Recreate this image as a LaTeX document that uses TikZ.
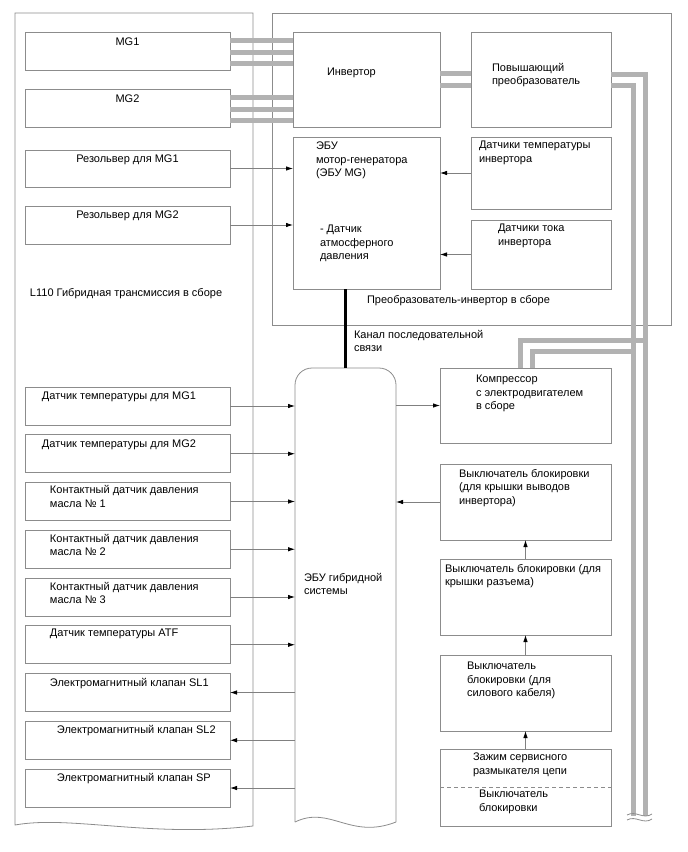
\documentclass[tikz,border=0pt]{standalone}
\usepackage{fontspec}
\setmainfont{Liberation Sans}
\usetikzlibrary{
  calc,
  positioning,
  arrows.meta
}

\begin{document}
\begin{tikzpicture}[x=1bp, y=-1bp,
    box/.style = {rectangle, draw=black!45, line width=.8bp, inner sep=0, outer sep=0},
    lbox/.style = {box, minimum width=205bp, minimum height=38bp},
    rbox/.style = {box, minimum width=171bp, minimum height=76bp},
    txt/.style = {inner sep=0, outer sep=0, align=left, anchor=north west},
    frame/.style = {draw=black!45, line width=.8bp},
    cable/.style = {draw=black!30, line width=5bp},
    sig/.style = {draw=black!50, line width=.8bp, -{Latex[black, length=7bp, width=4.5bp]}},
    serial/.style = {draw=black, line width=2.2bp},
    font=\fontsize{11bp}{13.5bp}\selectfont]
        \useasboundingbox (0,0) rectangle (688,852);

        % frames
        \draw[frame] (15,825) -- (15,13) -- (253,13) -- (253,826) .. controls (150,838) and (70,815) .. cycle;
        \node[box, minimum width=399bp, minimum height=312bp, anchor=north west] (inv_asm) at (272,13) {};

        % nodes, transmission side
        \node[lbox] (mg1) at (127.5,51) {};
        \node[lbox, below=19bp of mg1] (mg2) {};
        \node[lbox, minimum height=37bp] (res_mg1) at (127.5,168.5) {};
        \node[lbox, below=19bp of res_mg1] (res_mg2) {};
        \node[lbox] (temp_mg1) at (127.5,406) {};
        \node[lbox, below=9.75bp of temp_mg1] (temp_mg2) {};
        \node[lbox, below=9.75bp of temp_mg2] (oil_p1) {};
        \node[lbox, below=9.75bp of oil_p1] (oil_p2) {};
        \node[lbox, below=9.75bp of oil_p2] (oil_p3) {};
        \node[lbox, below=9.75bp of oil_p3] (temp_atf) {};
        \node[lbox, below=9.75bp of temp_atf] (sol_sl1) {};
        \node[lbox, below=9.75bp of sol_sl1] (sol_sl2) {};
        \node[lbox, below=9.75bp of sol_sl2] (sol_sp) {};

        % nodes, inverter side
        \node[box, minimum width=147bp, minimum height=95bp] (inverter) at (366.5,79.5) {};
        \node[box, minimum width=140bp, minimum height=95bp, right=31bp of inverter] (boost) {};
        \node[box, minimum width=147bp, minimum height=152bp, below=10bp of inverter] (mg_ecu) {};
        \node[box, minimum width=140bp, minimum height=72bp] (inv_temp) at (541,173) {};
        \node[box, minimum width=140bp, minimum height=69bp] (inv_cur) at (541,254.5) {};

        % hybrid ecu and right column
        \node[inner sep=0, outer sep=0, minimum width=101bp, minimum height=454bp] (hv_ecu) at (345.5,595) {};
        \draw[frame, rounded corners=17bp] (hv_ecu.south west) -- (hv_ecu.north west) -- (hv_ecu.north east) -- (hv_ecu.south east);
        \draw[frame] (hv_ecu.south west) .. controls (330,805) and (350,840) .. (hv_ecu.south east);
        \node[rbox, minimum height=75bp] (compressor) at (525.5,405.5) {};
        \node[rbox] (lock_cover) at (525.5,502) {};
        \node[rbox, below=19bp of lock_cover] (lock_conn) {};
        \node[rbox, below=20bp of lock_conn] (lock_cable) {};
        \node[rbox, minimum height=77bp, below=18bp of lock_cable] (svc_plug) {};
        \draw[frame, dash pattern=on 4bp off 3bp] (svc_plug.west) -- (svc_plug.east);

        % texts
        \node[txt, anchor=north] (mg1_txt) at ([shift={(0,6)}]mg1.north) {MG1};
        \node[txt, anchor=north] (mg2_txt) at ([shift={(0,6)}]mg2.north) {MG2};
        \node[txt, anchor=north] (res_mg1_txt) at ([shift={(0,5)}]res_mg1.north) {Резольвер для MG1};
        \node[txt, anchor=north] (res_mg2_txt) at ([shift={(0,5)}]res_mg2.north) {Резольвер для MG2};
        \node[txt] (trans_txt) at ([shift={(5,44)}]res_mg2.south west) {L110 Гибридная трансмиссия в сборе};
        \node[txt] (temp_mg1_txt) at ([shift={(17,5)}]temp_mg1.north west) {Датчик температуры для MG1};
        \node[txt] (temp_mg2_txt) at ([shift={(17,5)}]temp_mg2.north west) {Датчик температуры для MG2};
        \node[txt] (oil_p1_txt) at ([shift={(25,3)}]oil_p1.north west) {Контактный датчик давления\\масла № 1};
        \node[txt] (oil_p2_txt) at ([shift={(25,4)}]oil_p2.north west) {Контактный датчик давления\\масла № 2};
        \node[txt] (oil_p3_txt) at ([shift={(25,4)}]oil_p3.north west) {Контактный датчик давления\\масла № 3};
        \node[txt] (temp_atf_txt) at ([shift={(25,3)}]temp_atf.north west) {Датчик температуры ATF};
        \node[txt] (sol_sl1_txt) at ([shift={(25,5)}]sol_sl1.north west) {Электромагнитный клапан SL1};
        \node[txt] (sol_sl2_txt) at ([shift={(32,4)}]sol_sl2.north west) {Электромагнитный клапан SL2};
        \node[txt] (sol_sp_txt) at ([shift={(32,4)}]sol_sp.north west) {Электромагнитный клапан SP};

        \node[txt] (inverter_txt) at ([shift={(34,36)}]inverter.north west) {Инвертор};
        \node[txt] (boost_txt) at ([shift={(21,31)}]boost.north west) {Повышающий\\преобразователь};
        \node[txt] (mg_ecu_txt) at ([shift={(23,5)}]mg_ecu.north west) {ЭБУ\\мотор-генератора\\(ЭБУ MG)};
        \node[txt] (baro_txt) at ([shift={(27,88)}]mg_ecu.north west) {- Датчик\\атмосферного\\давления};
        \node[txt] (inv_temp_txt) at ([shift={(8,4)}]inv_temp.north west) {Датчики температуры\\инвертора};
        \node[txt] (inv_cur_txt) at ([shift={(27,4)}]inv_cur.north west) {Датчики тока\\инвертора};
        \node[txt] (inv_asm_txt) at ([shift={(74,6)}]mg_ecu.south west) {Преобразователь-инвертор в сборе};
        \node[txt] (serial_txt) at ([shift={(8.5,-38)}]hv_ecu.north) {Канал последовательной\\связи};
        \node[txt] (hv_ecu_txt) at ([shift={(9,205)}]hv_ecu.north west) {ЭБУ гибридной\\системы};
        \node[txt] (compressor_txt) at ([shift={(36,7)}]compressor.north west) {Компрессор\\с электродвигателем\\в сборе};
        \node[txt] (lock_cover_txt) at ([shift={(19,5)}]lock_cover.north west) {Выключатель блокировки\\(для крышки выводов\\инвертора)};
        \node[txt] (lock_conn_txt) at ([shift={(5,5)}]lock_conn.north west) {Выключатель блокировки (для\\крышки разъема)};
        \node[txt] (lock_cable_txt) at ([shift={(27,7)}]lock_cable.north west) {Выключатель\\блокировки (для\\силового кабеля)};
        \node[txt] (svc_plug_txt) at ([shift={(33,4)}]svc_plug.north west) {Зажим сервисного\\размыкателя цепи};
        \node[txt] (svc_lock_txt) at ([shift={(39,41)}]svc_plug.north west) {Выключатель\\блокировки};

        % power cables
        \coordinate (hv_line_a) at (645,816);
        \coordinate (hv_line_b) at (633,816);
        \coordinate (tap_a) at (645,340);
        \coordinate (tap_b) at (633,351);
        \draw[cable] ([yshift=10.5bp]mg1.east) -- ([yshift=10.5bp]mg1.east -| inverter.west);
        \draw[cable] ([yshift=-1bp]mg1.east) -- ([yshift=-1bp]mg1.east -| inverter.west);
        \draw[cable] ([yshift=-12bp]mg1.east) -- ([yshift=-12bp]mg1.east -| inverter.west);
        \draw[cable] ([yshift=11bp]mg2.east) -- ([yshift=11bp]mg2.east -| inverter.west);
        \draw[cable] ([yshift=-1bp]mg2.east) -- ([yshift=-1bp]mg2.east -| inverter.west);
        \draw[cable] ([yshift=-12bp]mg2.east) -- ([yshift=-12bp]mg2.east -| inverter.west);
        \draw[cable] ([yshift=6bp]inverter.east) -- ([yshift=6bp]boost.west);
        \draw[cable] ([yshift=-6bp]inverter.east) -- ([yshift=-6bp]boost.west);
        \draw[cable] ([yshift=5bp]boost.east) -| (hv_line_a);
        \draw[cable] ([yshift=-6bp]boost.east) -| (hv_line_b);
        \draw[cable] ([xshift=-5.5bp]compressor.north) |- (tap_a);
        \draw[cable] ([xshift=6.5bp]compressor.north) |- (tap_b);
        \draw[frame] (627,815) .. controls (636,810) and (643,820) .. (652,814);
        \draw[frame] (627,820) .. controls (636,815) and (643,825) .. (652,819);

        % connections
        \draw[serial] (hv_ecu.north) -- (hv_ecu.north |- mg_ecu.south);
        \draw[sig] (res_mg1.east) -- (res_mg1.east -| mg_ecu.west);
        \draw[sig] (res_mg2.east) -- (res_mg2.east -| mg_ecu.west);
        \draw[sig] (inv_temp.west) -- (inv_temp.west -| mg_ecu.east);
        \draw[sig] (inv_cur.west) -- (inv_cur.west -| mg_ecu.east);
        \draw[sig] (temp_mg1.east) -- (temp_mg1.east -| hv_ecu.west);
        \draw[sig] (temp_mg2.east) -- (temp_mg2.east -| hv_ecu.west);
        \draw[sig] (oil_p1.east) -- (oil_p1.east -| hv_ecu.west);
        \draw[sig] (oil_p2.east) -- (oil_p2.east -| hv_ecu.west);
        \draw[sig] (oil_p3.east) -- (oil_p3.east -| hv_ecu.west);
        \draw[sig] (temp_atf.east) -- (temp_atf.east -| hv_ecu.west);
        \draw[sig] (sol_sl1.east -| hv_ecu.west) -- (sol_sl1.east);
        \draw[sig] (sol_sl2.east -| hv_ecu.west) -- (sol_sl2.east);
        \draw[sig] (sol_sp.east -| hv_ecu.west) -- (sol_sp.east);
        \draw[sig] (compressor.west -| hv_ecu.east) -- (compressor.west);
        \draw[sig] (lock_cover.west) -- (lock_cover.west -| hv_ecu.east);
        \draw[sig] (lock_conn.north) -- (lock_cover.south);
        \draw[sig] (lock_cable.north) -- (lock_conn.south);
        \draw[sig] (svc_plug.north) -- (lock_cable.south);
\end{tikzpicture}
\end{document}
